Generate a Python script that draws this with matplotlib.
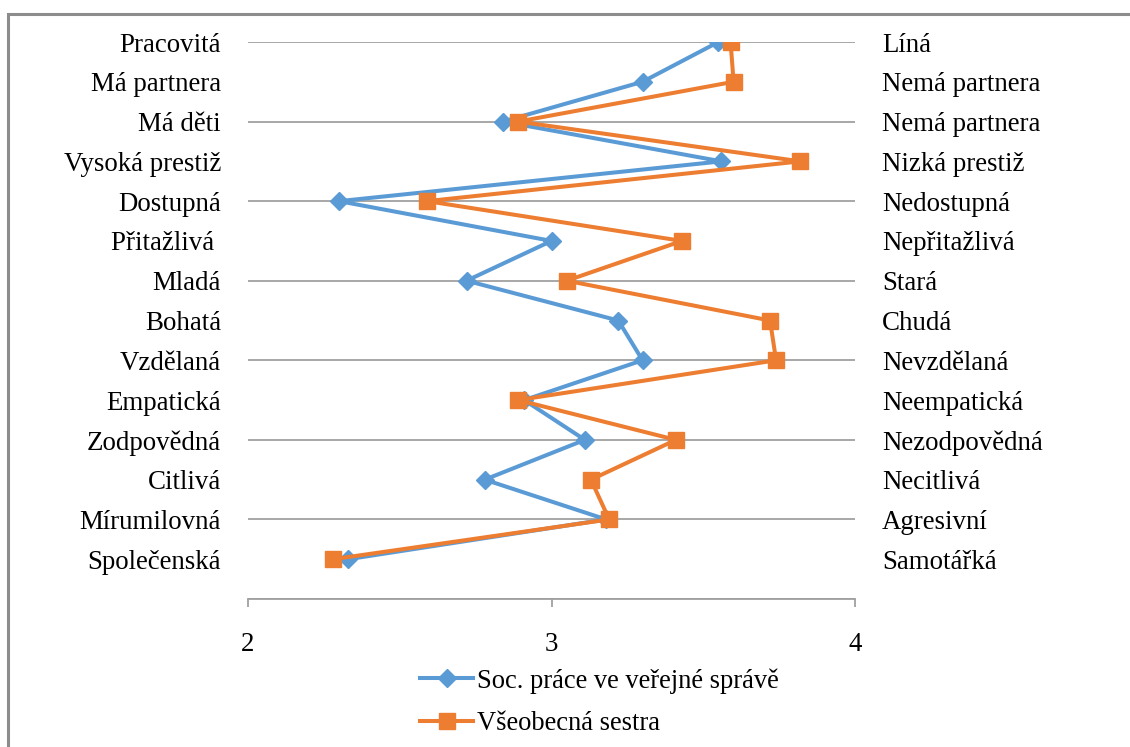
import matplotlib
matplotlib.use("Agg")
import matplotlib.pyplot as plt
from matplotlib.lines import Line2D
from matplotlib.patches import Rectangle

plt.rcParams['font.family'] = ['Liberation Serif', 'DejaVu Serif']

# Categories, top to bottom
left_labels = ["Pracovitá", "Má partnera", "Má děti", "Vysoká prestiž", "Dostupná",
               "Přitažlivá ", "Mladá", "Bohatá", "Vzdělaná", "Empatická",
               "Zodpovědná", "Citlivá", "Mírumilovná", "Společenská"]
right_labels = ["Líná", "Nemá partnera", "Nemá partnera", "Nizká prestiž", "Nedostupná",
                "Nepřitažlivá", "Stará", "Chudá", "Nevzdělaná", "Neempatická",
                "Nezodpovědná", "Necitlivá", "Agresivní", "Samotářká"]

soc_prace = [3.55, 3.30, 2.84, 3.56, 2.30, 3.00, 2.72, 3.22, 3.30, 2.91,
             3.11, 2.78, 3.18, 2.33]
sestra = [3.59, 3.60, 2.89, 3.82, 2.59, 3.43, 3.05, 3.72, 3.74, 2.89,
          3.41, 3.13, 3.19, 2.28]

series_names = ["Soc. práce ve veřejné správě", "Všeobecná sestra"]
x_ticks = [2, 3, 4]

FS = 19.4
W, H = 1130, 747
fig = plt.figure(figsize=(W / 100, H / 100), dpi=100)

# outer border (chart area frame, cropped on right/bottom)
fig.patches.append(Rectangle((8 / W, -0.1), 1.2, (H - 14) / H + 0.1,
                             transform=fig.transFigure, fill=False,
                             edgecolor='#8C8C8C', linewidth=2.2))

ax = fig.add_axes([248 / W, 148 / H, (855 - 248) / W, (599 - 42) / H])

n = len(left_labels)
ypos = [n - i for i in range(n)]  # 14 .. 1

blue = '#5B9BD5'
orange = '#ED7D31'
ax.plot(soc_prace, ypos, color=blue, linewidth=2.9, marker='D', markersize=9.4,
        label=series_names[0], zorder=3)
ax.plot(sestra, ypos, color=orange, linewidth=2.9, marker='s', markersize=11.8,
        label=series_names[1], zorder=4)

ax.set_xlim(2, 4)
ax.set_ylim(0, 14)
ax.set_yticks(range(0, 15, 2))
ax.set_yticklabels([])
ax.tick_params(axis='y', length=0)
ax.grid(axis='y', color='#A0A0A0', linewidth=1.3)
ax.set_axisbelow(True)
for s in ['left', 'right', 'top']:
    ax.spines[s].set_visible(False)
ax.spines['bottom'].set_color('#A0A0A0')
ax.spines['bottom'].set_linewidth(1.3)
ax.set_xticks(x_ticks)
ax.set_xticklabels([str(t) for t in x_ticks])
ax.tick_params(axis='x', direction='out', length=5.5, width=1.3, color='#A0A0A0',
               labelsize=FS, pad=18.5)

trans = ax.get_yaxis_transform()
for lab, y in zip(left_labels, ypos):
    ax.text(-27 / 607, y, lab, transform=trans, ha='right', va='center_baseline',
            fontsize=FS)
for lab, y in zip(right_labels, ypos):
    ax.text(1 + 27 / 607, y, lab, transform=trans, ha='left', va='center_baseline',
            fontsize=FS)

handles = [Line2D([], [], color=blue, linewidth=2.9, marker='D', markersize=9.4),
           Line2D([], [], color=orange, linewidth=2.9, marker='s', markersize=11.8)]
fig.legend(handles, series_names, loc='upper left',
           bbox_to_anchor=(420 / W, 1 - 668 / H), frameon=False, fontsize=19.1,
           handlelength=2.0, handletextpad=0.15, labelspacing=0.66, borderpad=0,
           borderaxespad=0)

fig.savefig('out.png', dpi=100)
